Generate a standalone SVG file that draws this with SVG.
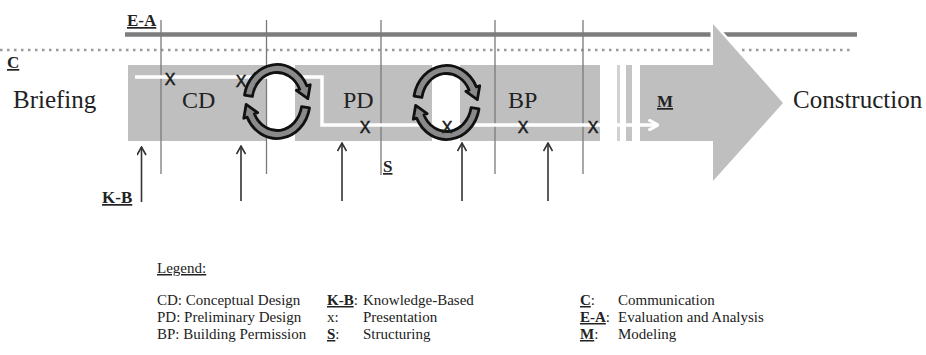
<svg xmlns="http://www.w3.org/2000/svg" width="926" height="355" viewBox="0 0 926 355">
<style>
.serif{font-family:"Liberation Serif","Times New Roman",serif;fill:#222}
.big{font-size:25px}
.phase{font-size:24px}
.lab{font-size:17px;font-weight:bold;text-decoration:underline}
.leg{font-size:15px}
.leg .lab{font-size:15px}
.xm{font-family:"Liberation Sans",Arial,sans-serif;font-size:16px;fill:#1a1a1a;stroke:#1a1a1a;stroke-width:0.5;text-anchor:middle}
.box{fill:#bfbfbf}
.vline{stroke:#7a7a7a;stroke-width:1.3;fill:none}
.up{stroke:#333;stroke-width:1.6;fill:none;marker-end:url(#upHead)}
.flow{stroke:#fff;stroke-width:3.5;fill:none;marker-end:url(#whiteHead)}
.cyc{fill:#8a8a8a;stroke:#111;stroke-width:2.8;stroke-linejoin:round}
</style>
<defs>
<marker id="upHead" viewBox="0 0 10 10" refX="9" refY="5" markerWidth="10" markerHeight="10" markerUnits="userSpaceOnUse" orient="auto"><path d="M1,0.5 L9,5 L1,9.5" fill="none" stroke="#333" stroke-width="1.6"/></marker>
<marker id="whiteHead" viewBox="0 0 10 10" refX="9" refY="5" markerWidth="12" markerHeight="12" markerUnits="userSpaceOnUse" orient="auto"><path d="M1,0.5 L9,5 L1,9.5" fill="none" stroke="#fff" stroke-width="2.5"/></marker>
<g id="cycleShape">
<path class="cyc" d="M-32.5,-6.42 A33,37 0 0 1 29.91,-15.64 L33.22,-16.79 L30.83,-2.85 L19.34,-11.11 L22.66,-12.26 A25,29 0 0 0 -24.62,-5.04 Z"/>
<path class="cyc" transform="rotate(180)" d="M-32.5,-6.42 A33,37 0 0 1 29.91,-15.64 L33.22,-16.79 L30.83,-2.85 L19.34,-11.11 L22.66,-12.26 A25,29 0 0 0 -24.62,-5.04 Z"/>
</g>
</defs>
<rect width="926" height="355" fill="#fff"/>

<g id="cd"><rect class="box" x="128" y="65" width="139" height="76"/></g>
<g id="pd"><rect class="box" x="295" y="65" width="137" height="76"/></g>
<g id="bp"><rect class="box" x="460" y="65" width="140" height="76"/></g>
<g id="stripes">
<rect x="617" y="65" width="3" height="76" fill="#d2d2d2"/>
<rect x="626" y="65" width="6" height="76" fill="#c4c4c4"/>
</g>

<g id="lanes">
<line x1="125" y1="34.5" x2="857" y2="34.5" stroke="#7d7d7d" stroke-width="4.5"/>
<line x1="0" y1="50" x2="852" y2="50" stroke="#9a9a9a" stroke-width="2.5" stroke-dasharray="2.5 4.5"/>
</g>

<g id="construction-arrow">
<polygon points="640,65 713,65 713,24 783,103 713,181 713,141 640,141" fill="#bfbfbf" stroke="#fff" stroke-width="5" paint-order="stroke"/>
</g>

<g id="grid">
<line class="vline" x1="161" y1="20" x2="161" y2="174"/>
<line class="vline" x1="266.5" y1="20" x2="266.5" y2="174"/>
<line class="vline" x1="381" y1="20" x2="381" y2="175"/>
<line class="vline" x1="495" y1="20" x2="495" y2="174"/>
<line class="vline" x1="583" y1="20" x2="583" y2="174"/>
</g>

<g id="connectors">
<path class="flow" d="M135,77 H322 V125 H658"/>
<line class="up" x1="141.5" y1="202" x2="141.5" y2="147"/>
<line class="up" x1="241" y1="201" x2="241" y2="146"/>
<line class="up" x1="342" y1="201" x2="342" y2="143"/>
<line class="up" x1="462" y1="201" x2="462" y2="143"/>
<line class="up" x1="548" y1="201" x2="548" y2="143"/>
</g>

<g id="cycle1"><use href="#cycleShape" transform="translate(277,101.5)"/></g>
<g id="cycle2"><use href="#cycleShape" transform="translate(446.5,102.5)"/></g>

<g id="marks">
<text class="xm" x="170" y="85">X</text>
<text class="xm" x="241" y="87">X</text>
<text class="xm" x="365" y="133">X</text>
<text class="xm" x="447" y="133">X</text>
<text class="xm" x="523" y="133">X</text>
<text class="xm" x="593" y="133">X</text>
</g>

<g id="labels" class="serif">
<text id="briefing" class="big" x="13" y="108">Briefing</text>
<text id="construction" class="big" x="793" y="108">Construction</text>
<text class="phase" x="182" y="108">CD</text>
<text class="phase" x="343" y="108">PD</text>
<text class="phase" x="508" y="108">BP</text>
<text class="lab" x="127" y="26">E-A</text>
<text class="lab" x="7" y="68">C</text>
<text class="lab" x="102" y="203">K-B</text>
<text class="lab" x="383" y="172">S</text>
<text class="lab" x="657" y="107">M</text>
</g>

<g id="legend" class="serif leg">
<text x="157" y="273" style="text-decoration:underline">Legend:</text>
<text x="157" y="305">CD: Conceptual Design</text>
<text x="157" y="322">PD: Preliminary Design</text>
<text x="157" y="339">BP: Building Permission</text>
<text x="327" y="305"><tspan class="lab">K-B</tspan>:</text>
<text x="363" y="305">Knowledge-Based</text>
<text x="327" y="322">x:</text>
<text x="363" y="322">Presentation</text>
<text x="327" y="339"><tspan class="lab">S</tspan>:</text>
<text x="363" y="339">Structuring</text>
<text x="580" y="305"><tspan class="lab">C</tspan>:</text>
<text x="618" y="305">Communication</text>
<text x="580" y="322"><tspan class="lab">E-A</tspan>:</text>
<text x="618" y="322">Evaluation and Analysis</text>
<text x="580" y="339"><tspan class="lab">M</tspan>:</text>
<text x="618" y="339">Modeling</text>
</g>
</svg>
